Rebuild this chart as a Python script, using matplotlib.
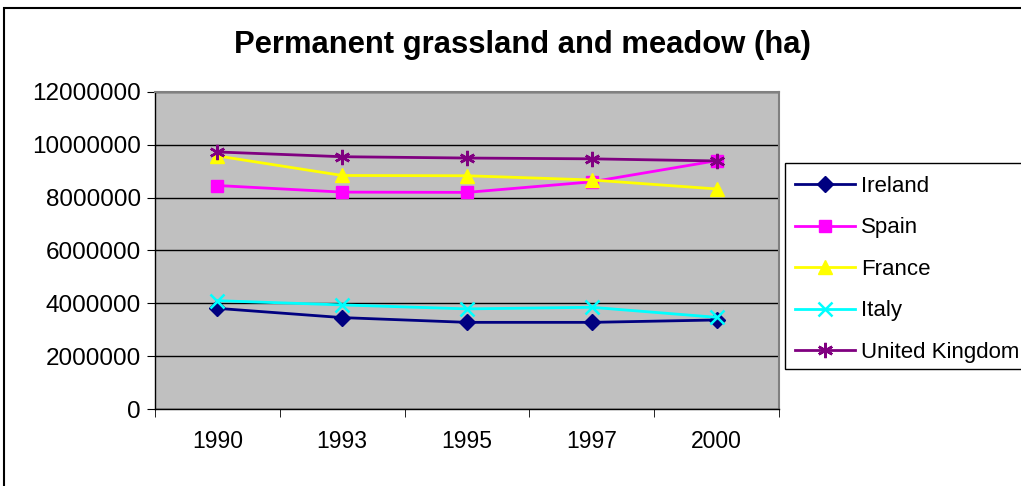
import matplotlib
matplotlib.use("Agg")
import matplotlib.pyplot as plt
from matplotlib.patches import Rectangle

years = ["1990", "1993", "1995", "1997", "2000"]
ireland = [3810000, 3460000, 3280000, 3280000, 3370000]
spain = [8460000, 8210000, 8200000, 8600000, 9400000]
france = [9580000, 8840000, 8830000, 8670000, 8330000]
italy = [4100000, 3940000, 3790000, 3850000, 3470000]
uk = [9730000, 9550000, 9500000, 9470000, 9390000]
y_ticks = [0, 2000000, 4000000, 6000000, 8000000, 10000000, 12000000]

plt.rcParams["font.family"] = ["Liberation Sans", "DejaVu Sans"]

W, H = 1021, 486
fig = plt.figure(figsize=(W / 100, H / 100), dpi=100)
fig.patch.set_facecolor("white")

# outer chart frame
fig.add_artist(Rectangle((4 / W, -0.05), 1.2, 1 - 8 / H + 0.05, transform=fig.transFigure,
                         fill=False, edgecolor="black", linewidth=1.5))

left, right, top, bottom = 155, 779, 92, 409
ax = fig.add_axes([left / W, 1 - bottom / H, (right - left) / W, (bottom - top) / H])
ax.set_facecolor("#c0c0c0")

x = list(range(len(years)))
series = [
    ("Ireland", ireland, "#000080", "D", 8, 1),
    ("Spain", spain, "#ff00ff", "s", 8, 1),
    ("France", france, "#ffff00", "^", 10, 1),
    ("Italy", italy, "#00ffff", "x", 10, 1.8),
    ("United Kingdom", uk, "#800080", (6, 2, 0), 11, 1.8),
]
for name, vals, col, mk, ms, mew in series:
    ax.plot(x, vals, color=col, linewidth=2, marker=mk, markersize=ms,
            markerfacecolor=col, markeredgecolor=col, markeredgewidth=mew,
            label=name, zorder=3)

ax.set_xlim(-0.5, len(years) - 0.5)
ax.set_ylim(0, 12000000)
ax.set_yticks(y_ticks)
ax.set_yticklabels([str(v) for v in y_ticks], fontsize=17.5)
ax.set_xticks(x)
ax.set_xticklabels(years, fontsize=16.5)
ax.set_xticks([i - 0.5 for i in range(len(years) + 1)], minor=True)
ax.tick_params(axis="x", which="major", length=0, pad=15)
ax.tick_params(axis="x", which="minor", length=6, direction="out", color="black")
ax.tick_params(axis="y", length=6, direction="out", color="black", pad=4)
ax.yaxis.grid(True, color="black", linewidth=1)
ax.set_axisbelow(True)
for s in ["top", "right"]:
    ax.spines[s].set_color("#808080")
    ax.spines[s].set_linewidth(1.5)
for s in ["left", "bottom"]:
    ax.spines[s].set_color("black")
    ax.spines[s].set_linewidth(1)

fig.text(522 / W, 1 - 45 / H, "Permanent grassland and meadow (ha)",
         ha="center", va="center", fontsize=22.3, fontweight="bold")

# legend box, extending past the right edge of the chart
fig.add_artist(Rectangle((785 / W, 1 - 369 / H), 300 / W, (369 - 163) / H,
                         transform=fig.transFigure, fill=True, facecolor="white",
                         edgecolor="black", linewidth=1, zorder=4))
leg = fig.legend(loc="upper left", bbox_to_anchor=(785 / W, 1 - 166 / H), fontsize=16,
                 frameon=False, handlelength=2.7, labelspacing=0.92, borderpad=0.45,
                 handletextpad=0.27, borderaxespad=0)
leg.set_zorder(5)

fig.savefig("out.png", dpi=100)
